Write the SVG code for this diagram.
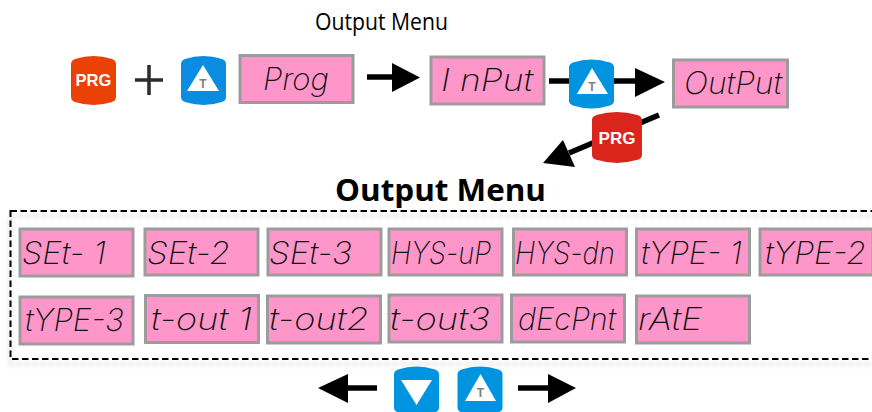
<svg xmlns="http://www.w3.org/2000/svg" width="872" height="412" viewBox="0 0 872 412">
<style>
.lcd rect{fill:#ff96ca;stroke:#9c9c9c;stroke-width:3}
.lcd text{font-family:Inter,"Liberation Sans",sans-serif;font-style:italic;font-weight:200;font-size:31px;fill:#111}
.ln{stroke:#000;stroke-width:5.5;fill:none}
.head{fill:#000}
.tl{font-family:"Open Sans",sans-serif;fill:#000}
.bt{font-family:"Liberation Sans",Arial,sans-serif;font-weight:700;text-anchor:middle}
</style>
<defs>
<path id="barrel" d="M0 8C0 5 2 4 4 3Q22.500 -3 41 3C43 4 45 5 45 8V41C45 44 43 45 41 46Q22.500 52 4 46C2 45 0 44 0 41Z"/>
<filter id="blur" x="-5%" y="-5%" width="110%" height="110%"><feGaussianBlur stdDeviation="2"/></filter>
</defs>
<text id="title" class="tl" x="315" y="30" font-size="23" textLength="133" lengthAdjust="spacingAndGlyphs">Output Menu</text>
<text id="heading" class="tl" x="335" y="201" font-size="30" font-weight="700" textLength="211" lengthAdjust="spacingAndGlyphs">Output Menu</text>
<g id="frame">
<rect x="10" y="216" width="880" height="148" fill="none" stroke="#ddd" stroke-width="3" stroke-dasharray="5 3" filter="url(#blur)"/>
<rect x="10.500" y="211" width="880" height="148" fill="none" stroke="#000" stroke-width="2" stroke-dasharray="6.500 3.500"/>
</g>
<g id="connectors">
<path class="ln" d="M367 77H394"/><path class="head" d="M392 63L420 77.500L392 92Z"/>
<path class="ln" d="M549 81H637"/><path class="head" d="M635 68L665 82L635 97Z"/>
<path class="ln" d="M659 115L569 153"/><path class="head" d="M543 163L563 140L575 167Z"/>
<path class="ln" d="M377 388H346"/><path class="head" d="M348 374L318 388L348 403Z"/>
<path class="ln" d="M518 388H550"/><path class="head" d="M548 374L576 388L548 403Z"/>
</g>
<g id="btn-prg-1"><use href="#barrel" transform="translate(71 56)" fill="#ea4106"/><text class="bt" x="93.500" y="86" font-size="16.500" fill="#fff">PRG</text></g>
<g id="plus"><path d="M135 80H163M149 65V95" stroke="#2b2b2b" stroke-width="3.500" fill="none"/></g>
<g id="btn-up-1"><use href="#barrel" transform="translate(181 56)" fill="#0a8de0"/><path d="M203 65L219 91H187Z" fill="#fff"/><text class="bt" x="203" y="87.500" font-size="12" fill="#808080">T</text></g>
<g id="prog" class="lcd"><rect x="240" y="55.500" width="113" height="47"/><text x="263" y="90" textLength="66" lengthAdjust="spacingAndGlyphs">Prog</text></g>
<g id="input" class="lcd"><rect x="431" y="57" width="113" height="47"/><text x="441" y="91" textLength="92" lengthAdjust="spacingAndGlyphs" xml:space="preserve">I nPut</text></g>
<g id="btn-up-2"><use href="#barrel" transform="translate(569 59.500)" fill="#0094e0"/><path d="M592 68L608 94H577Z" fill="#fff"/><text class="bt" x="592" y="90.500" font-size="12" fill="#808080">T</text></g>
<g id="output" class="lcd"><rect x="673.500" y="60" width="114" height="47"/><text x="684" y="94" textLength="98" lengthAdjust="spacingAndGlyphs">OutPut</text></g>
<g id="btn-prg-2"><use href="#barrel" transform="translate(592 112) scale(1.110 1.040)" fill="#da251c"/><text class="bt" x="617" y="144" font-size="17" fill="#fff">PRG</text></g>
<g id="set-1" class="lcd"><rect x="20" y="229" width="113" height="47"/><text x="22" y="264" textLength="84" lengthAdjust="spacingAndGlyphs" xml:space="preserve">SEt- 1</text></g>
<g id="set-2" class="lcd"><rect x="145" y="229" width="113" height="46"/><text x="147" y="264" textLength="83" lengthAdjust="spacingAndGlyphs">SEt-2</text></g>
<g id="set-3" class="lcd"><rect x="268" y="229" width="113" height="46"/><text x="269" y="264" textLength="83" lengthAdjust="spacingAndGlyphs">SEt-3</text></g>
<g id="hys-up" class="lcd"><rect x="389" y="229" width="113" height="46"/><text x="391" y="264" textLength="100" lengthAdjust="spacingAndGlyphs">HYS-uP</text></g>
<g id="hys-dn" class="lcd"><rect x="513.500" y="229" width="113" height="46"/><text x="515" y="264" textLength="100" lengthAdjust="spacingAndGlyphs">HYS-dn</text></g>
<g id="type-1" class="lcd"><rect x="636.500" y="229" width="113" height="46"/><text x="641" y="264" textLength="101" lengthAdjust="spacingAndGlyphs" xml:space="preserve">tYPE- 1</text></g>
<g id="type-2" class="lcd"><rect x="760" y="229" width="113" height="46"/><text x="765" y="264" textLength="101" lengthAdjust="spacingAndGlyphs">tYPE-2</text></g>
<g id="type-3" class="lcd"><rect x="20" y="297" width="113" height="47"/><text x="25" y="331" textLength="99" lengthAdjust="spacingAndGlyphs">tYPE-3</text></g>
<g id="t-out1" class="lcd"><rect x="145.500" y="295.500" width="113" height="47"/><text x="151" y="330" textLength="101" lengthAdjust="spacingAndGlyphs" xml:space="preserve">t-out 1</text></g>
<g id="t-out2" class="lcd"><rect x="267.500" y="296" width="113" height="47"/><text x="269" y="330" textLength="100" lengthAdjust="spacingAndGlyphs">t-out2</text></g>
<g id="t-out3" class="lcd"><rect x="389" y="295" width="113" height="47"/><text x="390" y="330" textLength="100" lengthAdjust="spacingAndGlyphs">t-out3</text></g>
<g id="decpnt" class="lcd"><rect x="511.500" y="295" width="113" height="47"/><text x="518" y="330" textLength="98" lengthAdjust="spacingAndGlyphs">dEcPnt</text></g>
<g id="rate" class="lcd"><rect x="636.500" y="296" width="113" height="47"/><text x="638" y="330" textLength="64" lengthAdjust="spacingAndGlyphs">rAtE</text></g>
<g id="btn-down"><use href="#barrel" transform="translate(394 366.500)" fill="#0094e0"/><path d="M401 380H432L416.500 405Z" fill="#fff"/></g>
<g id="btn-up-3"><use href="#barrel" transform="translate(457.500 366.500)" fill="#0094e0"/><path d="M480.500 374L496 401H465Z" fill="#fff"/><text class="bt" x="480.500" y="397" font-size="12" fill="#808080">T</text></g>
</svg>
